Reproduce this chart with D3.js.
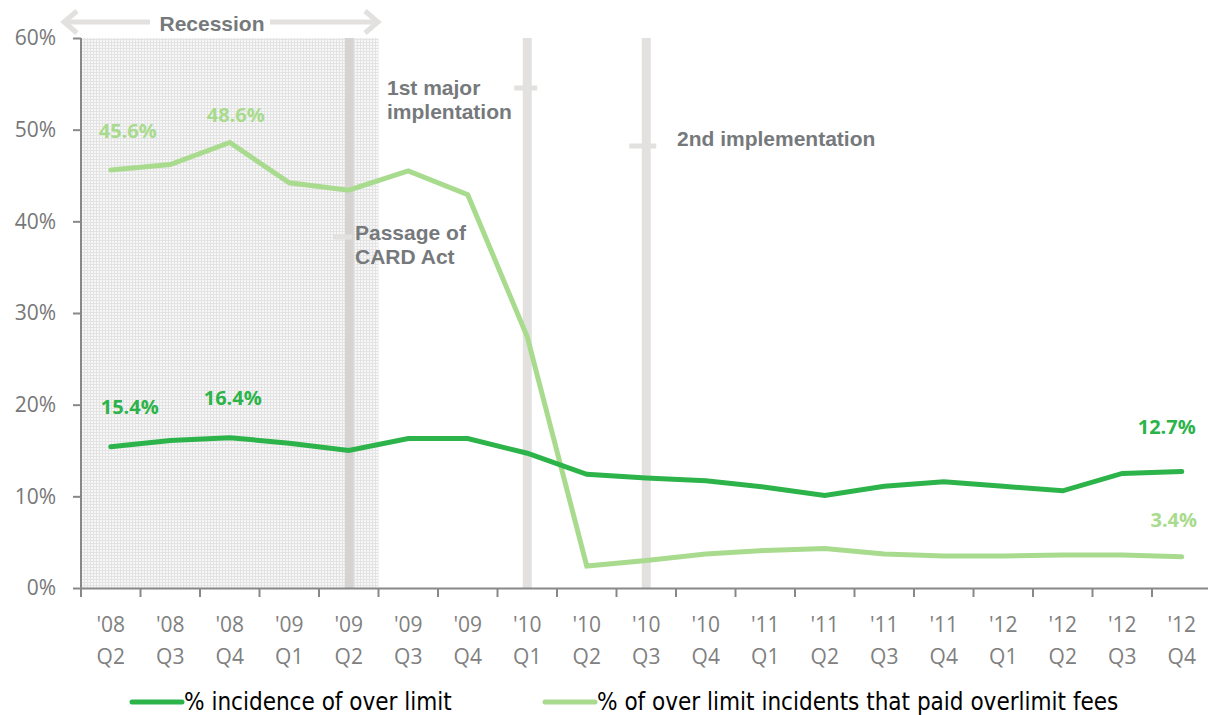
<!DOCTYPE html>
<html>
<head>
<meta charset="utf-8">
<script src="https://cdn.jsdelivr.net/npm/d3@7"></script>
<style>
body { margin: 0; background: #fff; }
svg { display: block; }
</style>
</head>
<body>
<svg id="chart" width="1208" height="715"></svg>
<script>
// quarters on the x axis
const years = ["'08","'08","'08","'09","'09","'09","'09","'10","'10","'10","'10","'11","'11","'11","'11","'12","'12","'12","'12"];
const quarters = ["Q2","Q3","Q4","Q1","Q2","Q3","Q4","Q1","Q2","Q3","Q4","Q1","Q2","Q3","Q4","Q1","Q2","Q3","Q4"];
const incidence = [15.4, 16.1, 16.4, 15.8, 15.0, 16.3, 16.3, 14.7, 12.4, 12.0, 11.7, 11.0, 10.1, 11.1, 11.6, 11.1, 10.6, 12.5, 12.7];
const paidFees = [45.6, 46.2, 48.6, 44.2, 43.4, 45.5, 42.9, 27.4, 2.4, 3.0, 3.7, 4.1, 4.3, 3.7, 3.5, 3.5, 3.6, 3.6, 3.4];
const yTicks = [0, 10, 20, 30, 40, 50, 60];
const seriesNames = ["% incidence of over limit", "% of over limit incidents that paid overlimit fees"];
const labelIdx = [0, 2, 18];

const darkGreen = "#2cb34a", lightGreen = "#a9db8e", greyText = "#76797c", bandGrey = "#e2e1df";

var svg = d3.select("#chart");
var margin = {left: 81, top: 38};
var bw = 59.5;
var idx = d3.range(quarters.length);

var x = d3.scaleBand().domain(idx).range([margin.left, margin.left + bw * idx.length]);
var y = d3.scaleLinear().domain([0, 60]).range([588, margin.top]);
var xc = i => x(i) + x.bandwidth() / 2;

// recession hatch
var defs = svg.append("defs");
var pat = defs.append("pattern").attr("id", "dots")
    .attr("width", 3).attr("height", 3).attr("patternUnits", "userSpaceOnUse");
pat.append("rect").attr("width", 3).attr("height", 3).attr("fill", "#f7f7f7");
pat.append("rect").attr("width", 3).attr("height", 1).attr("fill", "#e3e3e3");
pat.append("rect").attr("width", 1).attr("height", 3).attr("fill", "#e3e3e3");

svg.append("rect")
    .attr("x", x(0)).attr("y", y(60))
    .attr("width", x(5) - x(0)).attr("height", y(0) - y(60))
    .attr("fill", "url(#dots)");

// vertical event bands
var events = [
  {i: 4, off: 0.5, color: "#d5d4d2", tickY: 237, tickL: 16, tickR: 3},
  {i: 7, off: 0, color: bandGrey, tickY: 88, tickL: 13, tickR: 10},
  {i: 9, off: 0, color: bandGrey, tickY: 146, tickL: 17, tickR: 10}
];
events.forEach(function(e) {
  var cx = xc(e.i) + e.off;
  svg.append("rect").attr("x", cx - 4.5).attr("y", y(60))
     .attr("width", 9).attr("height", y(0) - y(60)).attr("fill", e.color);
  svg.append("rect").attr("x", cx - e.tickL).attr("y", e.tickY - 2.5)
     .attr("width", e.tickL + e.tickR).attr("height", 5).attr("fill", bandGrey);
});

// recession arrow
var arrowG = svg.append("g").attr("stroke", "#e2e1df").attr("stroke-width", 5).attr("fill", "none");
arrowG.append("line").attr("x1", 64).attr("y1", 22).attr("x2", 150).attr("y2", 22);
arrowG.append("line").attr("x1", 270).attr("y1", 22).attr("x2", 378).attr("y2", 22);
arrowG.append("path").attr("d", "M77,11 L64,22 L77,33");
arrowG.append("path").attr("d", "M365,11 L378,22 L365,33");
svg.append("text").attr("x", 212).attr("y", 31).attr("text-anchor", "middle")
   .attr("font-family", "Liberation Sans, Arial, sans-serif").attr("font-weight", "bold")
   .attr("font-size", 21).attr("fill", greyText).text("Recession");

// annotations
var ann = [
  {x: 387, y: 95, lines: ["1st major", "implentation"]},
  {x: 677, y: 146, lines: ["2nd implementation"]},
  {x: 355, y: 240, lines: ["Passage of", "CARD Act"]}
];
ann.forEach(function(a) {
  var t = svg.append("text").attr("x", a.x).attr("y", a.y)
     .attr("font-family", "Liberation Sans, Arial, sans-serif").attr("font-weight", "bold")
     .attr("font-size", 21).attr("fill", greyText);
  a.lines.forEach((l, k) => t.append("tspan").attr("x", a.x).attr("dy", k ? 24 : 0).text(l));
});

// axes
var axisColor = "#888";
var yAxis = svg.append("g").attr("transform", "translate(" + margin.left + ",0)")
   .call(d3.axisLeft(y).tickValues(yTicks).tickSize(8).tickPadding(17).tickFormat(d => d + "%"));
var xAxis = svg.append("g").attr("transform", "translate(0," + y(0) + ")")
   .call(d3.axisBottom(x).tickSize(0).tickFormat(""));
xAxis.selectAll(".tick").remove();
[yAxis, xAxis].forEach(function(g) {
  g.select(".domain").attr("stroke", axisColor).attr("stroke-width", 2);
  g.selectAll(".tick line").attr("stroke", axisColor).attr("stroke-width", 2);
});
yAxis.select(".domain").attr("d", "M0," + y(60) + "V" + (y(0) + 1));
yAxis.selectAll(".tick text").attr("font-family", "Open Sans, sans-serif")
   .attr("font-size", 21).attr("fill", "#777");

// x ticks at band boundaries
var bounds = d3.range(quarters.length + 1);
xAxis.selectAll(".bt").data(bounds).enter().append("line")
   .attr("x1", d => margin.left + d * bw).attr("x2", d => margin.left + d * bw)
   .attr("y1", 0).attr("y2", 9).attr("stroke", axisColor).attr("stroke-width", 2);
var xl = xAxis.selectAll(".xl").data(idx).enter().append("text")
   .attr("text-anchor", "middle").attr("font-family", "Open Sans, sans-serif")
   .attr("font-size", 21).attr("fill", "#808080");
xl.append("tspan").attr("x", d => xc(d)).attr("y", 44).text(d => years[d]);
xl.append("tspan").attr("x", d => xc(d)).attr("y", 76).text(d => quarters[d]);

// lines
var line = d3.line().x((d, i) => xc(i)).y(d => y(d));
svg.append("path").datum(paidFees).attr("d", line).attr("fill", "none")
   .attr("stroke", lightGreen).attr("stroke-width", 5).attr("stroke-linecap", "round");
svg.append("path").datum(incidence).attr("d", line).attr("fill", "none")
   .attr("stroke", darkGreen).attr("stroke-width", 5).attr("stroke-linecap", "round");

// data labels (offsets in px for the three labelled points)
function dataLabels(vals, color, dx, dy) {
  svg.selectAll(null).data(labelIdx).enter().append("text")
     .attr("x", (i, k) => xc(i) + dx[k])
     .attr("y", (i, k) => y(vals[i]) + dy[k])
     .attr("text-anchor", "middle")
     .attr("font-family", "Open Sans, sans-serif").attr("font-weight", "bold")
     .attr("font-size", 20).attr("fill", color)
     .text(i => vals[i].toFixed(1) + "%");
}
dataLabels(incidence, darkGreen, [19, 3, -15], [-33, -33, -38]);
dataLabels(paidFees, lightGreen, [17, 6, -8], [-32, -21, -30]);

// legend
var legend = [
  {x: 132, color: darkGreen, name: seriesNames[0]},
  {x: 545, color: lightGreen, name: seriesNames[1]}
];
legend.forEach(function(l) {
  svg.append("line").attr("x1", l.x).attr("x2", l.x + 50).attr("y1", 702).attr("y2", 702)
     .attr("stroke", l.color).attr("stroke-width", 5).attr("stroke-linecap", "round");
  svg.append("text").attr("x", l.x + 52).attr("y", 710)
     .attr("font-family", "Liberation Sans Narrow, DejaVu Sans Condensed, sans-serif")
     .attr("font-size", 24).attr("fill", "#000").text(l.name);
});
</script>
</body>
</html>
